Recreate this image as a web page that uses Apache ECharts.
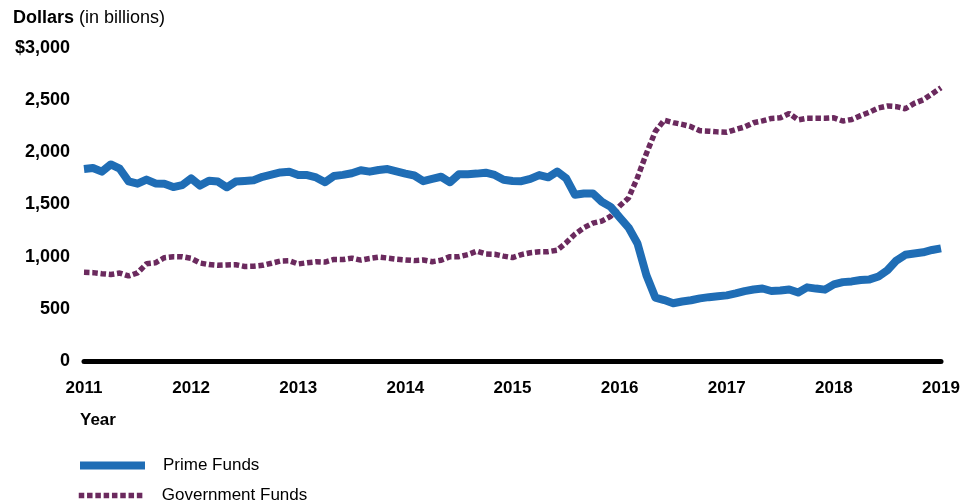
<!DOCTYPE html>
<html>
<head>
<meta charset="utf-8">
<script src="https://cdn.jsdelivr.net/npm/echarts@6/dist/echarts.min.js"></script>
<style>
html,body{margin:0;padding:0;background:#fff;}
#c{width:977px;height:504px;}
</style>
</head>
<body>
<div id="c"></div>
<script>
// Monthly, Jan 2011 – Jan 2019 (dollars in billions)
const startYear = 2011;
const endYear = 2019;
const yTicks = [0, 500, 1000, 1500, 2000, 2500, 3000];

const primeFunds = [
  1840,1850,1815,1884,1843,1722,1700,1739,1702,1698,1667,1686,
  1751,1681,1728,1720,1665,1720,1726,1732,1765,1786,1807,1813,
  1783,1782,1759,1713,1774,1784,1800,1828,1815,1831,1840,1818,
  1796,1778,1724,1746,1766,1713,1790,1791,1796,1805,1783,1738,
  1726,1723,1745,1782,1761,1816,1752,1593,1605,1606,1526,1477,
  1377,1279,1126,822,608,584,554,570,582,600,612,621,
  629,648,670,685,695,671,675,686,656,706,694,684,
  734,756,763,777,782,810,870,963,1018,1031,1042,1064,
  1080
];

const governmentFunds = [
  850,847,837,829,843,815,845,932,941,990,1000,999,
  984,939,924,917,921,923,906,908,917,937,958,961,
  930,942,951,948,973,972,986,967,983,996,987,976,
  969,962,968,952,966,1000,1000,1020,1053,1026,1023,1005,
  991,1020,1038,1048,1048,1062,1133,1216,1278,1321,1341,1387,
  1485,1563,1759,1989,2200,2308,2285,2268,2246,2207,2203,2196,
  2192,2219,2243,2284,2302,2325,2331,2373,2311,2327,2327,2326,
  2331,2300,2315,2352,2385,2426,2444,2438,2418,2469,2503,2561,
  2620
];

const months = [];
for (let y = startYear; y <= endYear; y++) {
  for (let m = 1; m <= 12; m++) {
    if (y === endYear && m > 1) break;
    months.push(y + '-' + String(m).padStart(2, '0'));
  }
}

const FONT = '"Liberation Sans", Arial, sans-serif';
const BLUE = '#1f6db5';
const PURPLE = '#6b2a5e';
const chart = echarts.init(document.getElementById('c'), null, {renderer: 'canvas'});

function legendBlock(name, top) {
  return {
    orient: 'vertical',
    left: 76,
    top: top,
    padding: 0,
    itemWidth: 65,
    itemHeight: 16,
    itemGap: 0,
    itemStyle: {opacity: 0},
    textStyle: {fontFamily: FONT, fontSize: 17, lineHeight: 16, color: '#000', padding: [0, 0, 0, 13]},
    lineStyle: {width: 'inherit'},
    data: [name]
  };
}

chart.setOption({
  animation: false,
  backgroundColor: '#fff',
  textStyle: {fontFamily: FONT},
  title: {
    left: 13,
    top: 9,
    padding: 0,
    text: '{b|Dollars} {n|(in billions)}',
    textStyle: {
      rich: {
        b: {fontFamily: FONT, fontWeight: 'bold', fontSize: 18, color: '#000'},
        n: {fontFamily: FONT, fontWeight: 'normal', fontSize: 18, color: '#000'}
      }
    }
  },
  graphic: [{
    type: 'text',
    left: 80,
    top: 412,
    style: {text: 'Year', fontFamily: FONT, fontWeight: 'bold', fontSize: 17, fill: '#000'}
  }],
  legend: [legendBlock('Prime Funds', 457), legendBlock('Government Funds', 487)],
  grid: {left: 84, right: 36, top: 48, bottom: 143, containLabel: false},
  xAxis: {
    type: 'category',
    data: months,
    boundaryGap: false,
    axisLine: {show: true, lineStyle: {color: '#000', width: 5}},
    axisTick: {show: false},
    splitLine: {show: false},
    axisLabel: {
      interval: 11,
      margin: 19,
      formatter: v => v.slice(0, 4),
      fontFamily: FONT, fontWeight: 'bold', fontSize: 17, color: '#000'
    }
  },
  yAxis: {
    type: 'value',
    min: yTicks[0],
    max: yTicks[yTicks.length - 1],
    interval: 500,
    axisLine: {show: false},
    axisTick: {show: false},
    splitLine: {show: false},
    axisLabel: {
      margin: 14,
      formatter: v => (v === 3000 ? '$' : '') + v.toLocaleString('en-US'),
      fontFamily: FONT, fontWeight: 'bold', fontSize: 18, color: '#000'
    }
  },
  series: [
    {
      name: 'Prime Funds',
      type: 'line',
      data: primeFunds,
      symbol: 'none',
      z: 3,
      lineStyle: {color: BLUE, width: 8, join: 'round'},
      itemStyle: {color: BLUE}
    },
    {
      name: 'Government Funds',
      type: 'line',
      data: governmentFunds,
      symbol: 'none',
      z: 2,
      lineStyle: {color: PURPLE, width: 5.5, type: [5.5, 2.8]},
      itemStyle: {color: PURPLE}
    }
  ]
});
</script>
</body>
</html>
